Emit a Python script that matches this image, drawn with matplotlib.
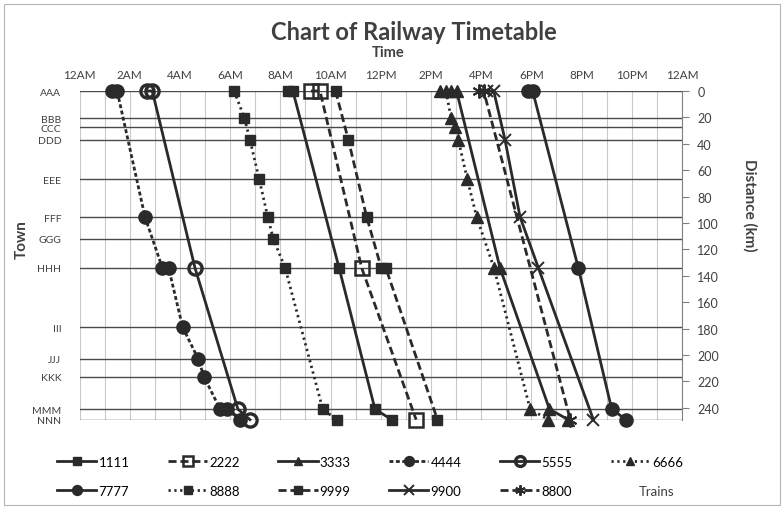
import matplotlib
matplotlib.use("Agg")
import matplotlib.pyplot as plt
from matplotlib.lines import Line2D
from matplotlib.patches import Rectangle

plt.rcParams['font.family'] = ['Lato', 'DejaVu Sans']

# ---------------- data ----------------
towns = ["AAA", "BBB", "CCC", "DDD", "EEE", "FFF", "GGG", "HHH",
         "III", "JJJ", "KKK", "MMM", "NNN"]
town_km = [0, 20.5, 27.5, 37, 67, 95.5, 112, 134, 179, 203, 216.5, 241, 249]

time_ticks = list(range(0, 25, 2))
time_labels = ["12AM", "2AM", "4AM", "6AM", "8AM", "10AM", "12PM",
               "2PM", "4PM", "6PM", "8PM", "10PM", "12AM"]
dist_ticks = list(range(0, 241, 20))

train_names = ["1111", "2222", "3333", "4444", "5555", "6666",
               "7777", "8888", "9999", "9900", "8800"]

# stops (town names) and times (hours after midnight) for each train
stops_1111 = ["AAA", "AAA", "HHH", "MMM", "NNN"]
times_1111 = [8.3, 8.5, 10.34, 11.77, 12.44]

stops_2222 = ["AAA", "AAA", "HHH", "NNN"]
times_2222 = [9.22, 9.58, 11.24, 13.41]

stops_3333 = ["AAA", "AAA", "HHH", "MMM", "NNN"]
times_3333 = [14.8, 15.02, 16.75, 18.72, 19.47]

stops_4444 = ["AAA", "AAA", "FFF", "HHH", "HHH", "III", "JJJ", "KKK", "MMM", "MMM", "NNN"]
times_4444 = [1.28, 1.5, 2.61, 3.3, 3.55, 4.11, 4.73, 4.96, 5.6, 5.88, 6.39]

stops_5555 = ["AAA", "AAA", "HHH", "MMM", "NNN"]
times_5555 = [2.68, 2.9, 4.6, 6.31, 6.79]

stops_6666 = ["AAA", "AAA", "BBB", "CCC", "DDD", "EEE", "FFF", "HHH", "MMM", "NNN"]
times_6666 = [14.38, 14.6, 14.8, 14.96, 15.09, 15.45, 15.82, 16.51, 17.95, 18.68]

stops_7777 = ["AAA", "AAA", "HHH", "MMM", "NNN"]
times_7777 = [17.85, 18.05, 19.87, 21.2, 21.77]

stops_8888 = ["AAA", "BBB", "DDD", "EEE", "FFF", "GGG", "HHH", "MMM", "NNN"]
times_8888 = [6.16, 6.57, 6.79, 7.16, 7.5, 7.72, 8.19, 9.69, 10.25]

stops_9999 = ["AAA", "DDD", "FFF", "HHH", "HHH", "NNN"]
times_9999 = [10.2, 10.71, 11.44, 12.02, 12.2, 14.26]

stops_9900 = ["AAA", "AAA", "DDD", "FFF", "HHH", "NNN"]
times_9900 = [16.25, 16.5, 16.95, 17.55, 18.28, 20.47]

stops_8800 = ["AAA", "AAA", "NNN"]
times_8800 = [15.9, 16.1, 19.55]

all_stops = [stops_1111, stops_2222, stops_3333, stops_4444, stops_5555, stops_6666,
             stops_7777, stops_8888, stops_9999, stops_9900, stops_8800]
all_times = [times_1111, times_2222, times_3333, times_4444, times_5555, times_6666,
             times_7777, times_8888, times_9999, times_9900, times_8800]

# ---------------- styles ----------------
C = '#2a2a2a'
solid = '-'
dash_long = (0, (2.9, 1.4))
dash_short = (0, (1.4, 0.9))
dotted = (0, (0.8, 1.3))
styles = {
    "1111": dict(ls=solid, marker='s', ms=7, mfc=C),
    "2222": dict(ls=dash_long, marker='s', ms=9.5, mfc='none', mew=1.8),
    "3333": dict(ls=solid, marker='^', ms=8, mfc=C),
    "4444": dict(ls=dash_short, marker='o', ms=9.5, mfc=C),
    "5555": dict(ls=solid, marker='o', ms=9.5, mfc='none', mew=2.4),
    "6666": dict(ls=dotted, marker='^', ms=8, mfc=C),
    "7777": dict(ls=solid, marker='o', ms=9.5, mfc=C),
    "8888": dict(ls=dotted, marker='s', ms=7, mfc=C),
    "9999": dict(ls=dash_long, marker='s', ms=7, mfc=C),
    "9900": dict(ls=solid, marker='x', ms=9, mfc=C, mew=1.4),
    "8800": dict(ls=dash_long, marker=(6, 2, 0), ms=10, mfc=C, mew=1.4),
}

km_of = dict(zip(towns, town_km))

# ---------------- figure ----------------
fig = plt.figure(figsize=(7.83, 5.10), dpi=100)
W, H = 783, 510
x0, x1, y0, y1 = 79.5, 682, 92, 420.7
ax = fig.add_axes([x0 / W, 1 - y1 / H, (x1 - x0) / W, (y1 - y0) / H])
ax.set_xlim(0, 24)
ax.set_ylim(249, 0)

# hourly vertical grid
for h in range(0, 25):
    ax.axvline(h, color='#c9c9c9', lw=0.8, zorder=0)
# town lines
for km in town_km:
    ax.axhline(km, color='#4a4a4a', lw=1.0, zorder=1)

for name, st, tm in zip(train_names, all_stops, all_times):
    s = styles[name]
    kms = [km_of[t] for t in st]
    ax.plot(tm, kms, color=C, lw=2.0, linestyle=s['ls'], marker=s['marker'],
            ms=s['ms'], mfc=s['mfc'], mec=C, mew=s.get('mew', 1.0),
            zorder=3, clip_on=False, label=name)

for sp in ax.spines.values():
    sp.set_visible(False)

ax.xaxis.tick_top()
ax.set_xticks(time_ticks)
ax.set_xticklabels(time_labels, fontsize=8.5, color='#404040')
ax.tick_params(axis='x', length=0, pad=8)
ax.set_yticks(town_km)
ax.set_yticklabels(towns, fontsize=7.5, color='#404040')
ax.tick_params(axis='y', length=0, pad=13)

ax2 = ax.twinx()
ax2.set_ylim(249, 0)
ax2.set_yticks(dist_ticks)
ax2.set_yticklabels([str(d) for d in dist_ticks], fontsize=9, color='#404040')
ax2.tick_params(axis='y', length=5, width=0.8, color='#808080', pad=6)
for k, sp in ax2.spines.items():
    sp.set_visible(k == 'right')
ax2.spines['right'].set_color('#808080')
ax2.spines['right'].set_linewidth(0.8)

# titles and axis labels
fig.text(414 / W, 1 - 32 / H, "Chart of Railway Timetable", ha='center', va='center',
         fontsize=17, fontweight='bold', color='#404040')
fig.text(388 / W, 1 - 53 / H, "Time", ha='center', va='center',
         fontsize=10.5, fontweight='bold', color='#404040')
fig.text(22 / W, 1 - 240 / H, "Town", ha='center', va='center', rotation=90,
         fontsize=11, fontweight='bold', color='#404040')
fig.text(750 / W, 1 - 205 / H, "Distance (km)", ha='center', va='center', rotation=270,
         fontsize=11, fontweight='bold', color='#404040')

# legend (row-major order achieved by interleaving)
order = ["1111", "7777", "2222", "8888", "3333", "9999",
         "4444", "9900", "5555", "8800", "6666"]
leg_handles = []
for n in order:
    s = styles[n]
    leg_handles.append(Line2D([0], [0], color=C, lw=2.0, linestyle=s['ls'],
                              marker=s['marker'], ms=s['ms'] * 0.75, mfc=s['mfc'],
                              mec=C, mew=s.get('mew', 1.0)))
fig.legend(leg_handles, order, loc='center', bbox_to_anchor=(370 / W, 1 - 477.5 / H),
           ncol=6, frameon=False, fontsize=9.5, handlelength=3.0, handletextpad=0.15,
           columnspacing=2.9, labelspacing=1.3, borderpad=0)
fig.text(657 / W, 1 - 492 / H, "Trains", ha='center', va='center', fontsize=9.5,
         color='#404040')

fig.patches.append(Rectangle((4 / W, 4 / H), 776 / W, 501 / H, transform=fig.transFigure,
                             fill=False, edgecolor='#b5b5b5', lw=0.8))

fig.savefig("out.png", dpi=100)
